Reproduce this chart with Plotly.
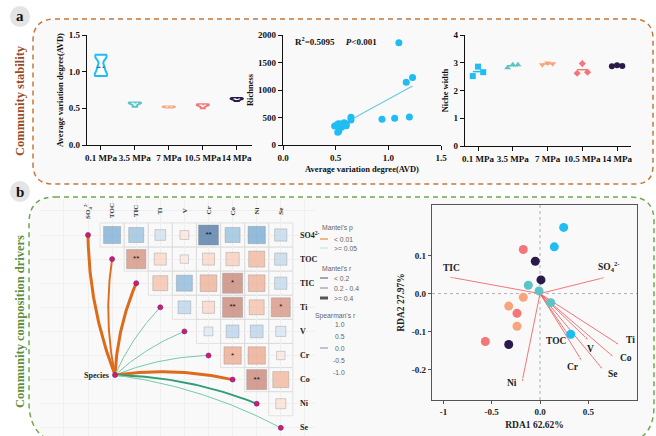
import numpy as np
import plotly.graph_objects as go

W, H = 656, 436
SERIF = "Liberation Serif, Times New Roman, serif"
SANS = "Liberation Sans, Arial, sans-serif"

# ---------------- data ----------------
groups = ["0.1 MPa", "3.5 MPa", "7 MPa", "10.5 MPa", "14 MPa"]
group_colors = ["#1FBDF3", "#5CC4C4", "#F8A47C", "#F37779", "#2A1A4A"]

# Panel a-1: average variation degree (violins)
avd_01 = [0.94, 0.97, 1.06, 1.19, 1.23]
avd_35 = [0.52, 0.55, 0.57, 0.575, 0.58]
avd_7 = [0.510, 0.515, 0.520, 0.522, 0.525]
avd_105 = [0.50, 0.53, 0.545, 0.55, 0.555]
avd_14 = [0.60, 0.62, 0.63, 0.635, 0.64]
avd_groups = [avd_01, avd_35, avd_7, avd_105, avd_14]
avd_bandwidth = [0.045, 0.012, 0.004, 0.012, 0.01]

# Panel a-2: richness vs AVD
rich_avd = [0.94, 1.06, 1.10, 1.17, 1.20, 1.23, 0.49, 0.52, 0.535, 0.52, 0.53,
            0.555, 0.55, 0.58, 0.60, 0.60, 0.645, 0.645]
rich_val = [470, 485, 1860, 1140, 510, 1225, 345, 382, 388, 230, 255,
            321, 364, 406, 376, 351, 503, 455]
fit_x = [0.50, 1.23]
fit_y = [309, 1073]

# Panel a-3: niche width
niche_01 = [2.52, 2.86, 2.66]
niche_35 = [2.82, 2.93, 2.93]
niche_7 = [2.93, 2.99, 2.96]
niche_105 = [2.62, 2.97, 2.66]
niche_14 = [2.87, 2.91, 2.88]
niche_groups = [niche_01, niche_35, niche_7, niche_105, niche_14]
niche_symbols = ["square", "triangle-up", "triangle-down", "diamond", "circle"]

# Panel b-1: Mantel test + Spearman correlation
env_vars = ["SO4<sup>2-</sup>", "TOC", "TIC", "Ti", "V", "Cr", "Co", "Ni", "Se"]
env_cols = ["SO<sub>4</sub><sup>2-</sup>", "TOC", "TIC", "Ti", "V", "Cr", "Co", "Ni", "Se"]
spearman_rows = [
    [0.66, 0.51, 0.26, -0.18, 0.91, 0.51, 0.68, 0.34],
    [-0.84, -0.33, -0.16, -0.33, -0.40, -0.58, 0.34],
    [-0.51, 0.58, -0.63, -0.91, -0.63, 0.34],
    [0.37, -0.33, -0.91, -0.51, -0.82],
    [0.18, 0.37, 0.37, 0.23],
    [-0.68, -0.68, -0.16],
    [-0.91, -0.58],
    [-0.23],
]
spearman_sig = [
    ["", "", "", "", "**", "", "", ""],
    ["**", "", "", "", "", "", ""],
    ["", "", "", "*", "", ""],
    ["", "", "**", "", "*"],
    ["", "", "", ""],
    ["*", "", ""],
    ["**", ""],
    [""],
]
mantel_r = [0.45, 0.30, 0.48, 0.12, 0.10, 0.15, 0.46, 0.32, 0.14]
mantel_p = [0.001, 0.005, 0.002, 0.30, 0.40, 0.25, 0.003, 0.08, 0.20]

# Panel b-2: RDA
rda_site_x = [0.245, 0.148, 0.318, -0.121, -0.010, 0.111, -0.173, -0.324, -0.238,
              -0.173, -0.238, -0.566, -0.049, 0.010, -0.324]
rda_site_y = [0.174, 0.123, -0.107, 0.022, 0.007, -0.024, -0.010, -0.033, -0.086,
              0.116, -0.052, -0.126, 0.085, 0.036, -0.134]
rda_site_group = [0, 0, 0, 1, 1, 1, 2, 2, 2, 3, 3, 3, 4, 4, 4]
rda_env = ["TIC", "SO<sub>4</sub><sup>2-</sup>", "Ti", "Co", "Se", "V", "TOC", "Cr", "Ni"]
rda_env_x = [-0.949, 0.680, 0.828, 0.766, 0.655, 0.507, 0.328, 0.438, -0.189]
rda_env_y = [0.044, 0.043, -0.136, -0.168, -0.201, -0.124, -0.122, -0.179, -0.236]
rda_label_pos = [("center", "bottom", 3, 2), ("center", "bottom", 3, 2), ("left", "middle", 4, 5),
                 ("left", "middle", 4, -1), ("left", "middle", 3, -4), ("center", "top", 2, -1),
                 ("right", "middle", -3, -1), ("right", "middle", -1, -5), ("right", "middle", -3, 0)]


# ---------------- helpers ----------------
def dom_x(a, b):
    return [a / W, b / W]


def dom_y(top, bottom):
    return [1 - bottom / H, 1 - top / H]


def pp(x, y):
    return x / W, 1 - y / H


def rrect_path(x0, y0, x1, y1, rtl, rtr, rbr, rbl):
    pts = [("M", [(x0 + rtl, y0)]), ("L", [(x1 - rtr, y0)]), ("Q", [(x1, y0), (x1, y0 + rtr)]),
           ("L", [(x1, y1 - rbr)]), ("Q", [(x1, y1), (x1 - rbr, y1)]), ("L", [(x0 + rbl, y1)]),
           ("Q", [(x0, y1), (x0, y1 - rbl)]), ("L", [(x0, y0 + rtl)]), ("Q", [(x0, y0), (x0 + rtl, y0)])]
    s = ""
    for cmd, ps in pts:
        s += cmd + " ".join("%.5f,%.5f" % pp(a, b) for a, b in ps) + " "
    return s + "Z"


def note(x, y, text, size, color, family=SERIF, xanchor="center", yanchor="middle", **kw):
    a, b = pp(x, y)
    return dict(x=a, y=b, xref="paper", yref="paper", text=text, showarrow=False,
                xanchor=xanchor, yanchor=yanchor, font=dict(family=family, size=size, color=color), **kw)


fig = go.Figure()
shapes = []
annotations = []

# panel frames
shapes.append(dict(type="path", xref="paper", yref="paper", layer="below",
                   path=rrect_path(33, 19, 653, 184, 22, 20, 18, 20),
                   fillcolor="#F9F9F9", line=dict(color="#C8773A", width=1.5, dash="5px,4px")))
shapes.append(dict(type="path", xref="paper", yref="paper", layer="below",
                   path=rrect_path(29, 197, 654, 444, 26, 24, 38, 42),
                   fillcolor="#F9F9F9", line=dict(color="#6FA84E", width=1.5, dash="5px,4px")))
for cy, lab in [(16.5, "a"), (191.5, "b")]:
    x0, y0 = pp(10, cy - 10.5)
    x1, y1 = pp(30, cy + 10.5)
    shapes.append(dict(type="circle", xref="paper", yref="paper", x0=x0, x1=x1, y0=y1, y1=y0,
                       fillcolor="#E4E4E4", line=dict(width=0)))
    annotations.append(note(20, cy, "<b>%s</b>" % lab, 15, "#111"))
annotations.append(note(20, 101, "<b>Community stability</b>", 12.5, "#9A4B1F", textangle=-90))
annotations.append(note(20, 322, "<b>Community composition drivers</b>", 12.5, "#5E8F3A", textangle=-90))

# ---------------- panel a-1: violins ----------------
for i, (vals, c, bw) in enumerate(zip(avd_groups, group_colors, avd_bandwidth)):
    fig.add_trace(go.Violin(x=[i] * len(vals), y=vals, xaxis="x", yaxis="y", width=0.36,
                            spanmode="hard", bandwidth=bw, points=False, fillcolor="white",
                            line=dict(color=c, width=2.0), showlegend=False, hoverinfo="skip"))
    med = float(np.median(vals))
    fig.add_trace(go.Scatter(x=[i - 0.1, i + 0.1], y=[med, med], mode="lines", xaxis="x", yaxis="y",
                             line=dict(color="#222" if i == 0 else "white", width=0.9, dash="3px,2px"),
                             showlegend=False, hoverinfo="skip"))

# ---------------- panel a-2: richness scatter ----------------
fig.add_trace(go.Scatter(x=fit_x, y=fit_y, mode="lines", xaxis="x2", yaxis="y2",
                         line=dict(color="#6CCBDD", width=1.2), showlegend=False))
fig.add_trace(go.Scatter(x=rich_avd, y=rich_val, mode="markers", xaxis="x2", yaxis="y2",
                         marker=dict(color="#1FBDF3", size=7), showlegend=False))
annotations.append(note(293, 41, "<b>R<sup>2</sup>=0.5095     <i>P</i>&lt;0.001</b>", 9, "#111",
                        xanchor="left"))

# ---------------- panel a-3: niche width ----------------
rep_offsets = [-0.15, 0.0, 0.15]
for i, (vals, c, sym) in enumerate(zip(niche_groups, group_colors, niche_symbols)):
    m = float(np.mean(vals))
    fig.add_trace(go.Scatter(x=[i - 0.15, i + 0.15], y=[m, m], mode="lines", xaxis="x3", yaxis="y3",
                             line=dict(color=c, width=1.5), showlegend=False))
    fig.add_trace(go.Scatter(x=[i + o for o in rep_offsets], y=vals, mode="markers", xaxis="x3",
                             yaxis="y3", marker=dict(symbol=sym, color=c, size=6 if sym != "diamond" else 5.5),
                             showlegend=False))

# ---------------- panel b-1: Mantel heatmap ----------------
cell_x, cell_y, cell_r, cell_s, star_x, star_y, star_t = [], [], [], [], [], [], []
for i, row in enumerate(spearman_rows):
    for k, r in enumerate(row):
        j = i + 1 + k
        cell_x.append(j)
        cell_y.append(i)
        cell_r.append(r)
        cell_s.append(21 * np.sqrt(abs(r)))
        shapes.append(dict(type="rect", xref="x4", yref="y4", layer="below",
                           x0=j - 0.5, x1=j + 0.5, y0=i - 0.5, y1=i + 0.5,
                           line=dict(color="#DCDCDC", width=0.8)))
        if spearman_sig[i][k]:
            star_x.append(j)
            star_y.append(i)
            star_t.append(spearman_sig[i][k])

cscale = [[0.0, "#B25A4A"], [0.045, "#C47A6A"], [0.16, "#EBA083"], [0.25, "#F6BCA2"],
          [0.335, "#FAD3C1"], [0.42, "#FCE6DD"], [0.5, "#F7F7F7"], [0.59, "#DCE9F4"],
          [0.67, "#BCD5EA"], [0.75, "#8FBCDD"], [0.83, "#6EA6D0"], [0.955, "#3D6C9C"],
          [1.0, "#2F5A8A"]]

# links
species = (1.12, 5.81)
tt = np.linspace(0, 1, 50)
kcurv = 0.09
for i in range(len(env_vars)):
    tx, ty = float(i), float(i)
    dx, dy = tx - species[0], ty - species[1]
    cx = (species[0] + tx) / 2 + kcurv * dy
    cy = (species[1] + ty) / 2 - kcurv * dx
    bx = (1 - tt) ** 2 * species[0] + 2 * (1 - tt) * tt * cx + tt ** 2 * tx
    by = (1 - tt) ** 2 * species[1] + 2 * (1 - tt) * tt * cy + tt ** 2 * ty
    r, p = mantel_r[i], mantel_p[i]
    w = 1.0 if r < 0.2 else (1.9 if r < 0.4 else 3.0)
    if p < 0.01:
        col = "#DE6A1C"
    else:
        col = "#72CCA8" if r < 0.2 else "#2E9E74"
    fig.add_trace(go.Scatter(x=bx, y=by, mode="lines", xaxis="x4", yaxis="y4",
                             line=dict(color=col, width=w), showlegend=False, hoverinfo="skip"))

fig.add_trace(go.Scatter(x=cell_x, y=cell_y, mode="markers", xaxis="x4", yaxis="y4",
                         marker=dict(symbol="square", size=cell_s, color=cell_r, colorscale=cscale,
                                     cmin=-1, cmax=1, showscale=False,
                                     line=dict(color="rgba(90,90,90,0.45)", width=0.8)),
                         showlegend=False))
fig.add_trace(go.Scatter(x=star_x, y=star_y, mode="text", text=star_t, xaxis="x4", yaxis="y4",
                         textfont=dict(family=SANS, size=8, color="#111"), showlegend=False))
node_x = list(range(len(env_vars))) + [species[0]]
node_y = list(range(len(env_vars))) + [species[1]]
fig.add_trace(go.Scatter(x=node_x, y=node_y, mode="markers", xaxis="x4", yaxis="y4",
                         marker=dict(color="#D81B60", size=5, line=dict(color="#6A1B9A", width=0.6)),
                         showlegend=False))
annotations.append(dict(x=species[0] - 0.15, y=species[1], xref="x4", yref="y4", xanchor="right",
                        yanchor="middle", text="<b>Species</b>", showarrow=False,
                        font=dict(family=SERIF, size=8, color="#222")))
for i, (rl, cl) in enumerate(zip(env_vars, env_cols)):
    annotations.append(dict(x=8.71, y=i, xref="x4", yref="y4", xanchor="left", yanchor="middle",
                            text="<b>%s</b>" % rl, showarrow=False,
                            font=dict(family=SERIF, size=8, color="#222")))
    annotations.append(dict(x=i, y=-1.0, xref="x4", yref="y4", xanchor="center", yanchor="middle",
                            textangle=-90, text="<b>%s</b>" % cl, showarrow=False,
                            font=dict(family=SERIF, size=7, color="#333")))

# Mantel legend
leg_text = [(320, 228, "Mantel's p"), (332, 239, "&lt; 0.01"), (332, 248, "&gt;= 0.05"),
            (320, 268, "Mantel's r"), (332, 278, "&lt; 0.2"), (332, 288, "0.2 - 0.4"),
            (332, 298, "&gt;= 0.4"), (313, 316, "Spearman's r"), (333, 324, "1.0"),
            (333, 336, "0.5"), (333, 348, "0.0"), (331, 360, "-0.5"), (331, 372, "-1.0")]
for x, y, t in leg_text:
    annotations.append(note(x, y, t, 6.8, "#666", family=SANS, xanchor="left"))
leg_lines = [(239, "#F08A3C", 1.2), (248, "#BEE6D6", 1.2), (278, "#555555", 1.0),
             (288, "#B0B0B0", 1.6), (298, "#555555", 3.0), (348, "#8C89AE", 1.0)]
for y, c, w in leg_lines:
    a0, b0 = pp(320, y)
    a1, _ = pp(328, y)
    shapes.append(dict(type="line", xref="paper", yref="paper", x0=a0, x1=a1, y0=b0, y1=b0,
                       line=dict(color=c, width=w)))

# ---------------- panel b-2: RDA ----------------
shapes.append(dict(type="line", xref="x5", yref="y5 domain", x0=0, x1=0, y0=0, y1=1,
                   line=dict(color="#A0A0A0", width=0.8, dash="dot"), layer="below"))
shapes.append(dict(type="line", xref="x5 domain", yref="y5", x0=0, x1=1, y0=0, y1=0,
                   line=dict(color="#A0A0A0", width=0.8, dash="dot"), layer="below"))
for name, ex, ey, (xa, ya, xs, ys) in zip(rda_env, rda_env_x, rda_env_y, rda_label_pos):
    fig.add_trace(go.Scatter(x=[0, ex], y=[0, ey], mode="lines+markers", xaxis="x5", yaxis="y5",
                             line=dict(color="#F0545A", width=0.8),
                             marker=dict(symbol="arrow", angleref="previous", size=[0, 5],
                                         color="#F0545A"),
                             showlegend=False, hoverinfo="skip"))
    annotations.append(dict(x=ex, y=ey, xref="x5", yref="y5", xanchor=xa, yanchor=ya, xshift=xs,
                            yshift=ys, text="<b>%s</b>" % name, showarrow=False,
                            font=dict(family=SERIF, size=9.5, color="#222")))
for g in range(len(groups)):
    xs = [x for x, gg in zip(rda_site_x, rda_site_group) if gg == g]
    ys = [y for y, gg in zip(rda_site_y, rda_site_group) if gg == g]
    fig.add_trace(go.Scatter(x=xs, y=ys, mode="markers", xaxis="x5", yaxis="y5",
                             marker=dict(color=group_colors[g], size=9), showlegend=False))

# ---------------- layout ----------------
tf = dict(family=SERIF, size=9, color="#111", weight="bold")
gp = dict(showline=True, linecolor="#111", linewidth=1.3, ticks="outside", ticklen=4, tickwidth=1.3,
          tickcolor="#111", showgrid=False, zeroline=False, tickfont=tf, automargin=False, tickangle=0)
ttl = dict(family=SERIF, size=8.5, color="#111", weight="bold")
hm = dict(showgrid=True, gridcolor="#EFEFEF", gridwidth=0.8, dtick=1, tick0=0, showticklabels=False,
          ticks="", zeroline=False, showline=False, automargin=False)
rd = dict(showline=True, mirror=True, linecolor="#555", linewidth=1.3, ticks="outside", ticklen=3,
          tickcolor="#555", showgrid=False, zeroline=False, automargin=False, tickangle=0,
          tickfont=dict(family=SERIF, size=9, color="#222", weight="bold"))
rdt = dict(family=SERIF, size=9.5, color="#222", weight="bold")

fig.update_layout(
    template="none",
    width=W, height=H, margin=dict(l=0, r=0, t=0, b=0, pad=0, autoexpand=False), showlegend=False,
    paper_bgcolor="white", plot_bgcolor="rgba(0,0,0,0)", violinmode="overlay",
    xaxis=dict(domain=dom_x(87, 252), anchor="y", range=[-0.41, 4.45], tickvals=list(range(5)),
               ticktext=groups, **gp),
    yaxis=dict(domain=dom_y(35, 145), anchor="x", range=[0, 1.5], tickvals=[0, 0.5, 1, 1.5],
               ticktext=["0.0", "0.5", "1.0", "1.5"],
               title=dict(text="Average variation degree(AVD)", font=ttl, standoff=3), **gp),
    xaxis2=dict(domain=dom_x(283, 441), anchor="y2", range=[0, 1.5], tickvals=[0, 0.5, 1, 1.5],
                ticktext=["0.0", "0.5", "1.0", "1.5"],
                title=dict(text="Average variation degree(AVD)", font=ttl, standoff=4), **gp),
    yaxis2=dict(domain=dom_y(35, 145), anchor="x2", range=[0, 2000], tickvals=[0, 500, 1000, 1500, 2000],
                title=dict(text="Richness", font=ttl, standoff=3), **gp),
    xaxis3=dict(domain=dom_x(465, 631), anchor="y3", range=[-0.374, 4.4], tickvals=list(range(5)),
                ticktext=groups, **gp),
    yaxis3=dict(domain=dom_y(35, 146), anchor="x3", range=[0, 4], tickvals=[0, 1, 2, 3, 4],
                title=dict(text="Niche width", font=ttl, standoff=3), **gp),
    xaxis4=dict(domain=dom_x(40, 315), anchor="y4", range=[-1.992, 9.419], **hm),
    yaxis4=dict(domain=dom_y(200, 436), anchor="x4", range=[8.340, -1.452], **hm),
    xaxis5=dict(domain=dom_x(432, 637), anchor="y5", range=[-1.118, 1.004], tickvals=[-1, -0.5, 0, 0.5],
                ticktext=["-1", "-0.5", "0.0", "0.5"],
                title=dict(text="RDA1 62.62%", font=rdt, standoff=5), **rd),
    yaxis5=dict(domain=dom_y(205, 400), anchor="x5", range=[-0.280, 0.233],
                tickvals=[-0.2, -0.1, 0, 0.1], ticktext=["-0.2", "-0.1", "0.0", "0.1"],
                title=dict(text="RDA2 27.97%", font=rdt, standoff=5), **rd),
    shapes=shapes, annotations=annotations,
)

fig.write_html("out.html")
